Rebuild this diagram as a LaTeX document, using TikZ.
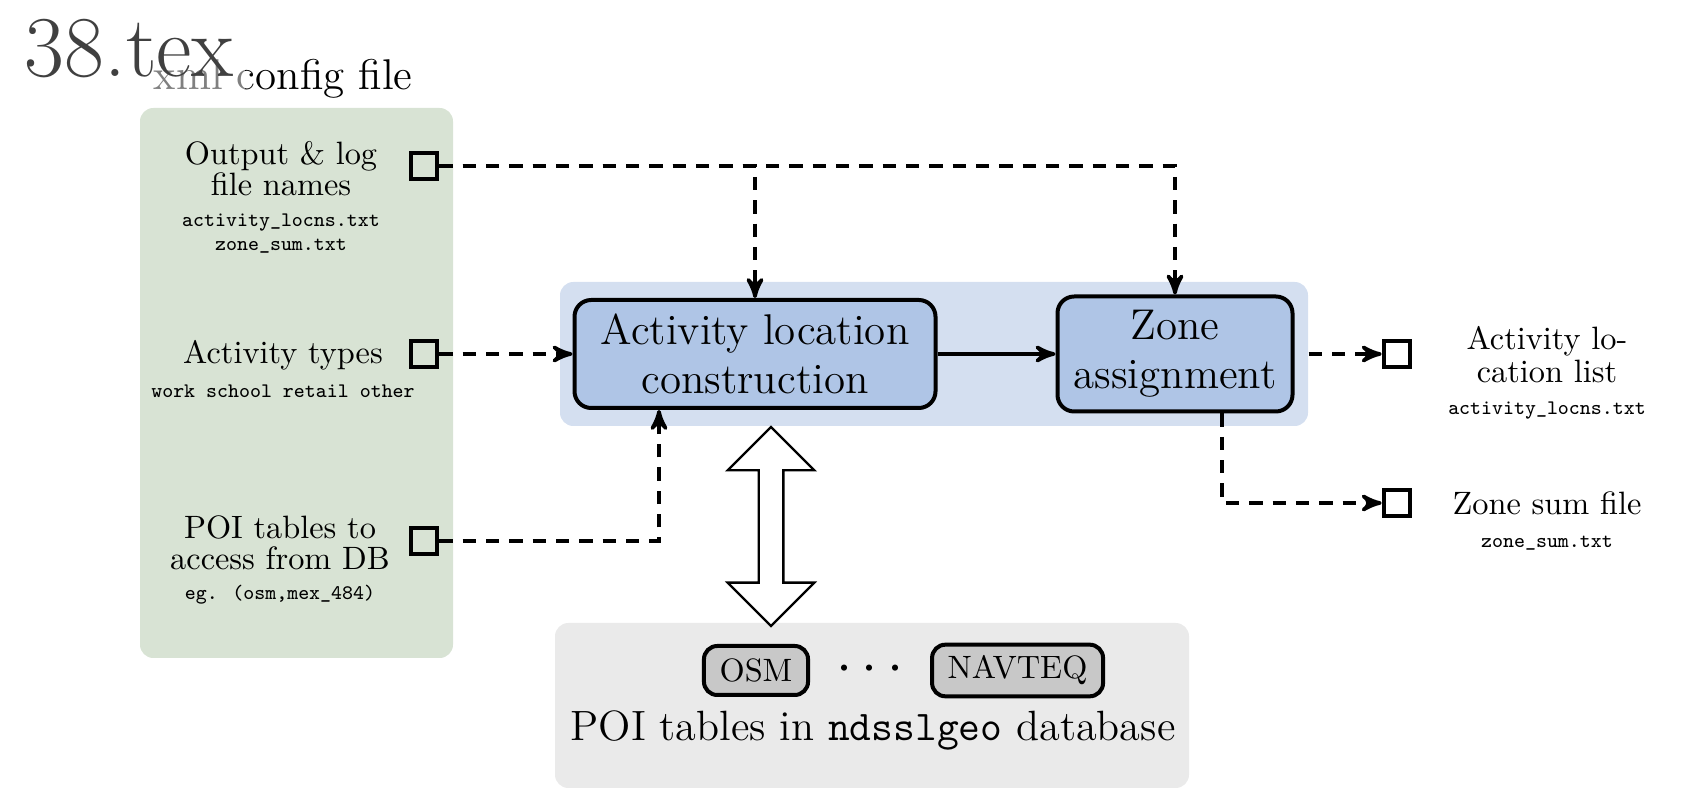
\documentclass[tikz,border=0pt]{standalone}
\usepackage{tikz}
\usetikzlibrary{arrows, positioning, shapes.arrows}

\definecolor{cfggreen}{RGB}{216,227,212}
\definecolor{procpanel}{RGB}{212,223,240}
\definecolor{procblue}{RGB}{175,197,230}
\definecolor{dbgray}{RGB}{234,234,234}
\definecolor{tablegray}{RGB}{200,200,200}

\newcommand{\bigfont}{\fontsize{12.9}{14.6}\selectfont}
\newcommand{\midfont}{\fontsize{9.7}{9.2}\selectfont}
\newcommand{\ttsmall}{\fontsize{6.2}{7.8}\selectfont\ttfamily}

\tikzset{
  panel/.style = {rounded corners=4pt, inner sep=0pt},
  proc/.style = {align=center, font=\bigfont, draw=black, very thick,
    fill=procblue, rounded corners=5pt, inner sep=0pt},
  port/.style = {draw=black, very thick, minimum size=8pt, inner sep=0pt},
  lbl/.style = {align=center, font=\midfont, inner sep=0pt},
  dbtable/.style = {draw=black, very thick, fill=tablegray, rounded corners=4pt,
    font=\midfont, inner xsep=4.7pt, minimum height=14.7pt},
  flow/.style = {->, line width=1.1pt, dash pattern=on 4pt off 3pt}
}

\begin{document}
\begin{tikzpicture}[x=0.3pt, y=-0.3pt, >=stealth']
\useasboundingbox (0,0) rectangle (1700,811);

% panels
\node [panel, fill=cfggreen, minimum width=93.9pt, minimum height=165pt] (cfg) at (296.5,383) {};
\node [panel, fill=procpanel, minimum width=224.4pt, minimum height=43.2pt] (procs) at (934,354) {};
\node [panel, fill=dbgray, minimum width=190.2pt, minimum height=49.5pt] (db) at (872,705.5) {};

\node [font=\bigfont, inner sep=0pt, above=2.4pt of cfg, xshift=-4pt] (cfgtitle) {xml config file};
\node [font=\fontsize{26}{26}\selectfont, text=darkgray, fill=white, fill opacity=0.5,
  text opacity=1, anchor=base west] (tag) at (13,77) {38.tex};

% config entries
\node [port] (outport) at (424,166) {};
\node [port] (typeport) at (424,354) {};
\node [port] (poiport) at (424,541) {};
\node [lbl, anchor=north] (outlbl) at (281,141) {Output \& log\\file names\\{\ttsmall activity\_locns.txt}\\[-2pt]{\ttsmall zone\_sum.txt}};
\node [lbl, anchor=north] (typelbl) at (283,340) {Activity types\\[1pt]{\ttsmall work school retail other}};
\node [lbl, anchor=north] (poilbl) at (280,515) {POI tables to\\access from DB\\{\ttsmall eg. (osm,mex\_484)}};

% processing
\node [proc, minimum width=108.3pt, minimum height=32.4pt] (locbuild) at (755,354) {Activity location\\construction};
\node [proc, minimum width=70.5pt, minimum height=34.5pt] (zoneassign) at (1175,354) {Zone\\assignment};

% outputs
\node [port] (locport) at (1397,354) {};
\node [port] (sumport) at (1397,503) {};
\node [lbl, anchor=north] (loclbl) at (1547,326) {Activity lo-\\[0.7pt]cation list\\[0.3pt]{\ttsmall activity\_locns.txt}};
\node [lbl, anchor=north] (sumlbl) at (1547,491) {Zone sum file\\[0.8pt]{\ttsmall zone\_sum.txt}};

% database
\node [dbtable] (osm) at (756,670.5) {OSM};
\node [dbtable, right=36pt of osm] (navteq) {NAVTEQ};
\node [font=\fontsize{18}{18}\selectfont, inner sep=0pt] (dots) at (870,670) {$\cdots$};
\node [font=\fontsize{12.7}{14.6}\selectfont, anchor=base] (dblbl) at (873,740) {POI tables in \texttt{ndsslgeo} database};
\node [double arrow, draw, line width=0.7pt, fill=white, rotate=90, inner xsep=0pt, inner ysep=3.35pt,
  minimum height=59.7pt, minimum width=26pt, double arrow head extend=9.3pt] (dbarrow) at (771,526.5) {};

% connectors
\draw [flow] (outport.east) -| (locbuild.north);
\draw [flow] (outport.east) -| (zoneassign.north);
\draw [flow] (typeport.east) -- (locbuild.west);
\draw [flow] (poiport.east) -| ([xshift=-28.8pt]locbuild.south);
\draw [->, line width=1.1pt] (locbuild) -- (zoneassign);
\draw [flow] (procs.east) -- (locport.west);
\draw [flow] ([xshift=14.1pt]zoneassign.south) |- (sumport.west);
\end{tikzpicture}
\end{document}
